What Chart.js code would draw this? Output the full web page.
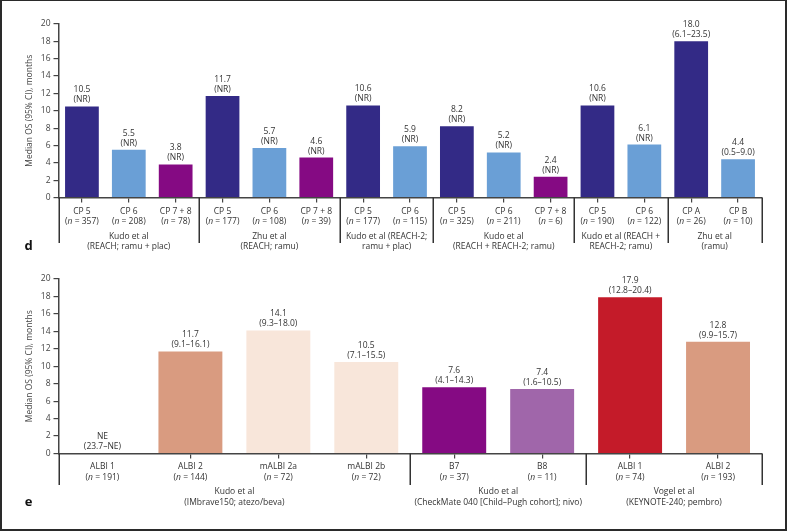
<!DOCTYPE html>
<html><head><meta charset="utf-8">
<script src="https://cdn.jsdelivr.net/npm/chart.js@4/dist/chart.umd.min.js"></script>
<style>
html,body{margin:0;padding:0;background:#fff;}
#wrap{position:relative;width:787px;height:531px;overflow:hidden;background:#fff;}
#frame{position:absolute;left:0;top:0;width:787px;height:531px;box-sizing:border-box;border:2px solid #2a2a2a;border-top-width:1px;pointer-events:none;}
canvas{position:absolute;left:0;}
</style></head><body>
<div id="wrap">
<canvas id="cD" width="787" height="265" style="top:0px"></canvas>
<canvas id="cE" width="787" height="266" style="top:265px"></canvas>
<div id="frame"></div>
</div>
<script>
const FONT = "'Open Sans', 'Noto Sans', sans-serif";

// ---------- Panel d data ----------
const dCategories = ['CP 5','CP 6','CP 7 + 8','CP 5','CP 6','CP 7 + 8','CP 5','CP 6','CP 5','CP 6','CP 7 + 8','CP 5','CP 6','CP A','CP B'];
const dN = [357, 208, 78, 177, 108, 39, 177, 115, 325, 211, 6, 190, 122, 26, 10];
const dValues = [10.5, 5.5, 3.8, 11.7, 5.7, 4.6, 10.6, 5.9, 8.2, 5.2, 2.4, 10.6, 6.1, 18.0, 4.4];
const dCI = ['(NR)','(NR)','(NR)','(NR)','(NR)','(NR)','(NR)','(NR)','(NR)','(NR)','(NR)','(NR)','(NR)','(6.1–23.5)','(0.5–9.0)'];
const dGroupLabels = [
  ['Kudo et al', '(REACH; ramu + plac)'],
  ['Zhu et al', '(REACH; ramu)'],
  ['Kudo et al (REACH-2;', 'ramu + plac)'],
  ['Kudo et al', '(REACH + REACH-2; ramu)'],
  ['Kudo et al (REACH +', 'REACH-2; ramu)'],
  ['Zhu et al', '(ramu)']
];
const dGroupSizes = [3, 3, 2, 3, 2, 2];

// ---------- Panel e data ----------
const eCategories = ['ALBI 1','ALBI 2','mALBI 2a','mALBI 2b','B7','B8','ALBI 1','ALBI 2'];
const eN = [191, 144, 72, 72, 37, 11, 74, 193];
const eValues = [null, 11.7, 14.1, 10.5, 7.6, 7.4, 17.9, 12.8];
const eCI = ['(23.7–NE)','(9.1–16.1)','(9.3–18.0)','(7.1–15.5)','(4.1–14.3)','(1.6–10.5)','(12.8–20.4)','(9.9–15.7)'];
const eGroupLabels = [
  ['Kudo et al', '(IMbrave150; atezo/beva)'],
  ['Kudo et al', '(CheckMate 040 [Child–Pugh cohort]; nivo)'],
  ['Vogel et al', '(KEYNOTE-240; pembro)']
];
const eGroupSizes = [4, 2, 2];

const yTicks = [0, 2, 4, 6, 8, 10, 12, 14, 16, 18, 20];

// ---------- styles ----------
const NAVY = '#332a86', LBLUE = '#6a9fd6', PURPLE = '#850a83';
const dColorFor = c => (c === 'CP 5' || c === 'CP A') ? NAVY : (c === 'CP 6' || c === 'CP B') ? LBLUE : PURPLE;
const eBarColors = ['#d99b80', '#d99b80', '#f8e6da', '#f8e6da', PURPLE, '#a066aa', '#c41b29', '#d99b80'];

function drawN(ctx, n, cx, y) {
  const a = '(', b = 'n', c = ' = ' + n + ')';
  ctx.font = `8.5px ${FONT}`;
  const wa = ctx.measureText(a).width, wc = ctx.measureText(c).width;
  ctx.font = `italic 8.5px ${FONT}`;
  const wb = ctx.measureText(b).width;
  let x = cx - (wa + wb + wc) / 2;
  ctx.textAlign = 'left';
  ctx.font = `8.5px ${FONT}`; ctx.fillText(a, x, y); x += wa;
  ctx.font = `italic 8.5px ${FONT}`; ctx.fillText(b, x, y); x += wb;
  ctx.font = `8.5px ${FONT}`; ctx.fillText(c, x, y);
  ctx.textAlign = 'center';
}

function annotPlugin(cfg) {
  return {
    id: 'annot',
    afterDraw(chart) {
      const ctx = chart.ctx, xs = chart.scales.x, ys = chart.scales.y;
      ctx.save();
      ctx.fillStyle = '#333';
      ctx.textAlign = 'center';
      ctx.textBaseline = 'middle';
      ctx.font = `8.5px ${FONT}`;
      cfg.values.forEach((v, i) => {
        const bx = xs.getPixelForValue(i);
        const top = ys.getPixelForValue(v == null ? 0 : v);
        ctx.fillText(cfg.ci[i], bx, top - 6.5);
        ctx.fillText(v == null ? 'NE' : v.toFixed(1), bx, top - 16.5);
      });
      cfg.categories.forEach((c, i) => {
        const bx = xs.getPixelForValue(i);
        ctx.font = `8.5px ${FONT}`;
        ctx.fillText(c, bx, cfg.catY);
        drawN(ctx, cfg.n[i], bx, cfg.catY + 10.3);
      });
      ctx.strokeStyle = '#333';
      ctx.lineWidth = 1.5;
      let start = 0;
      const bounds = [start];
      cfg.groupSizes.forEach(s => { start += s; bounds.push(start); });
      bounds.forEach(b => {
        const px = Math.round(xs.getPixelForValue(b - 0.5)) + 0.25;
        ctx.beginPath();
        ctx.moveTo(px, ys.bottom);
        ctx.lineTo(px, cfg.divBottom);
        ctx.stroke();
      });
      ctx.font = `8.5px ${FONT}`;
      cfg.groupLabels.forEach((g, k) => {
        const l = xs.getPixelForValue(bounds[k] - 0.5), r = xs.getPixelForValue(bounds[k + 1] - 0.5);
        const cx = (l + r) / 2;
        ctx.fillText(g[0], cx, cfg.groupY);
        ctx.fillText(g[1], cx, cfg.groupY + 10.3);
      });
      ctx.fillStyle = '#111';
      ctx.font = `bold 13px ${FONT}`;
      ctx.fillText(cfg.letter, 28.5, cfg.letterY);
      ctx.restore();
    }
  };
}

function makeChart(id, categories, values, colors, pad, hideFirstTick, barPct, cfg) {
  return new Chart(document.getElementById(id), {
    type: 'bar',
    data: {
      labels: categories,
      datasets: [{ data: values, backgroundColor: colors, borderWidth: 0, barPercentage: barPct, categoryPercentage: 1 }]
    },
    options: {
      responsive: false,
      animation: false,
      layout: { padding: pad },
      plugins: { legend: { display: false }, tooltip: { enabled: false } },
      scales: {
        x: {
          ticks: { display: false },
          grid: { drawOnChartArea: false, offset: false, tickLength: 5, lineWidth: 1.2,
                  color: c => (hideFirstTick && c.index === 0) ? 'rgba(0,0,0,0)' : '#444' },
          border: { display: true, color: '#444', width: 1.5 },
          afterFit(s) { s.height = 5; }
        },
        y: {
          min: 0, max: 20,
          afterBuildTicks(s) { s.ticks = yTicks.map(v => ({ value: v })); },
          ticks: { font: { size: 8.5, family: FONT }, color: '#444', padding: 3 },
          grid: { drawOnChartArea: false, tickLength: 5, color: '#444', lineWidth: 1.2 },
          border: { display: true, color: '#444', width: 1.5 },
          title: { display: true, text: 'Median OS (95% CI), months', font: { size: 8.5, family: FONT }, color: '#444', padding: { top: 4, bottom: 0 } },
          afterFit(s) { s.width = 38.5; }
        }
      }
    },
    plugins: [annotPlugin(cfg)]
  });
}

makeChart('cD', dCategories, dValues, dCategories.map(dColorFor),
  { left: 20, right: 25.5, top: 24, bottom: 62.5 }, false, 0.72,
  { values: dValues, ci: dCI, categories: dCategories, n: dN, groupSizes: dGroupSizes, groupLabels: dGroupLabels,
    catY: 211.7, groupY: 236.7, divBottom: 243, letter: 'd', letterY: 246 });

makeChart('cE', eCategories, eValues, eBarColors,
  { left: 20, right: 25, top: 14, bottom: 72.5 }, true, 0.727,
  { values: eValues, ci: eCI, categories: eCategories, n: eN, groupSizes: eGroupSizes, groupLabels: eGroupLabels,
    catY: 202, groupY: 227, divBottom: 220, letter: 'e', letterY: 237 });
</script>
</body></html>
